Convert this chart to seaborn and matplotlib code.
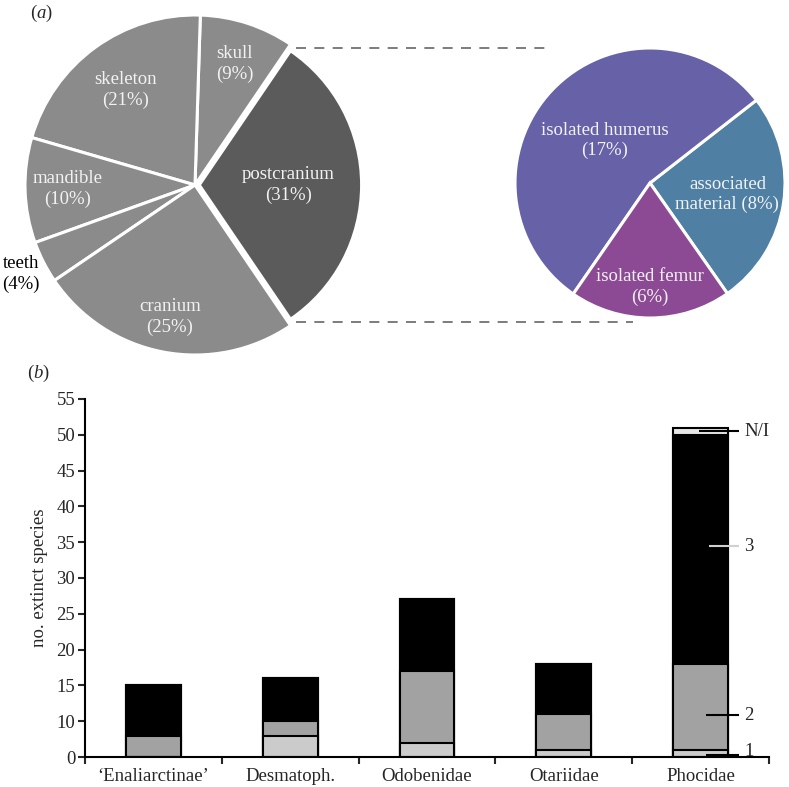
"""
Pinniped fossil record figure: (a) pie charts of holotype material, (b) stacked bars of extinct species
"""

import matplotlib
matplotlib.use('Agg')
import matplotlib.pyplot as plt
from matplotlib.lines import Line2D
import seaborn as sns
import numpy as np
import pandas as pd

# (a) left pie: holotype material (counter-clockwise from postcranium)
material_labels = ['postcranium', 'skull', 'skeleton', 'mandible', 'teeth', 'cranium']
material_pct = [31, 9, 21, 10, 4, 25]

# (a) right pie: breakdown of postcranium
postcranial_labels = ['associated\nmaterial', 'isolated humerus', 'isolated femur']
postcranial_pct = [8, 17, 6]

# (b) stacked bars
families = ['\u2018Enaliarctinae\u2019', 'Desmatoph.', 'Odobenidae', 'Otariidae', 'Phocidae']
grade_1 = [0, 3, 2, 1, 1]
grade_2 = [3, 2, 10, 5, 12]
grade_3 = [7, 6, 10, 7, 32]
grade_ni = [0, 0, 0, 0, 1]
ytick_labels = ['0', '10', '15', '20', '25', '30', '35', '40', '45', '50', '55']

sns.set_style('white')
plt.rcParams['font.family'] = ['Liberation Serif', 'DejaVu Serif']
plt.rcParams['mathtext.fontset'] = 'custom'
plt.rcParams['mathtext.rm'] = 'Liberation Serif'
plt.rcParams['mathtext.it'] = 'Liberation Serif:italic'

W, H = 789, 787
fig = plt.figure(figsize=(W / 100, H / 100), dpi=100)


def px_axes(cx, cy, half):
    """axes centred at pixel (cx, cy) with half-size in px"""
    return fig.add_axes([(cx - half) / W, 1 - (cy + half) / H, 2 * half / W, 2 * half / H])


FS = 13.5

# ---- left pie ----
r1 = 170
ax1 = px_axes(195, 185, 1.25 * r1)
wedges1, _ = ax1.pie(material_pct, colors=['#5b5b5b'] + ['#8b8b8b'] * 5,
                     startangle=-55.8, counterclock=True, explode=[0.025, 0, 0, 0, 0, 0],
                     wedgeprops=dict(edgecolor='white', linewidth=2.2))
wedges1[0].set_radius(0.955)
ax1.set_xlim(-1.25, 1.25)
ax1.set_ylim(-1.25, 1.25)
rad1 = [0.55, 0.75, 0.69, 0.75, 1.15, 0.79]
for w, lab, pct, rr in zip(wedges1, material_labels, material_pct, rad1):
    ang = np.deg2rad((w.theta1 + w.theta2) / 2)
    col = 'black' if rr > 1 else '#f2f2f2'
    ax1.text(rr * np.cos(ang), rr * np.sin(ang), f'{lab}\n({pct}%)', ha='center', va='center',
             color=col, fontsize=FS, linespacing=1.25)

# ---- right pie ----
r2 = 135
ax2 = px_axes(650, 183, 1.25 * r2)
wedges2, _ = ax2.pie(postcranial_pct, colors=['#4f80a3', '#6761a7', '#8c4a95'],
                     startangle=-55, counterclock=True,
                     wedgeprops=dict(edgecolor='white', linewidth=2.2))
ax2.set_xlim(-1.25, 1.25)
ax2.set_ylim(-1.25, 1.25)
rad2 = [0.58, 0.46, 0.77]
for w, lab, pct, rr in zip(wedges2, postcranial_labels, postcranial_pct, rad2):
    ang = np.deg2rad((w.theta1 + w.theta2) / 2)
    sep = ' ' if '\n' in lab else '\n'
    ax2.text(rr * np.cos(ang), rr * np.sin(ang), f'{lab}{sep}({pct}%)', ha='center', va='center',
             color='#f2f2f2', fontsize=FS, linespacing=1.25)

# dashed connectors between pies
fig.add_artist(Line2D([296 / W, 548 / W], [1 - 48 / H, 1 - 48 / H], color='#666666',
                      lw=1.2, ls=(0, (6, 5))))
fig.add_artist(Line2D([296 / W, 633 / W], [1 - 322 / H, 1 - 322 / H], color='#666666',
                      lw=1.2, ls=(0, (6, 5))))

fig.text(30 / W, 1 - 13 / H, r'($\mathit{a}$)', fontsize=FS, va='center', ha='left')
fig.text(27 / W, 1 - 373 / H, r'($\mathit{b}$)', fontsize=FS, va='center', ha='left')

# ---- bar chart ----
ax3 = fig.add_axes([85 / W, 1 - 757 / H, (769 - 85) / W, (757 - 399) / H])
g1 = np.array(grade_1)
g12 = g1 + np.array(grade_2)
g123 = g12 + np.array(grade_3)
gall = g123 + np.array(grade_ni)
layers = [(gall, '#e8e8e8'), (g123, 'black'), (g12, '#a2a2a2'), (g1, '#cbcbcb')]
for vals, col in layers:
    df = pd.DataFrame({'family': families, 'n': vals})
    sns.barplot(data=df, x='family', y='n', order=families, color=col, saturation=1,
                width=0.4, edgecolor='black', linewidth=1.5, errorbar=None, ax=ax3)

ax3.set_xlim(-0.5, 4.5)
ax3.set_ylim(0, 50)
ax3.set_yticks(np.arange(0, 51, 5))
ax3.set_yticklabels(ytick_labels)
ax3.set_xticks(np.arange(-0.5, 4.6, 1), minor=True)
ax3.tick_params(axis='x', which='major', length=0, pad=8, labelsize=FS)
ax3.tick_params(axis='x', which='minor', length=5, width=1.5, direction='out', bottom=True)
ax3.tick_params(axis='y', length=5, width=1.5, direction='out', left=True, labelsize=FS, pad=2)
ax3.set_xlabel('')
ax3.set_ylabel('no. extinct species', fontsize=FS, labelpad=6)
for s in ['top', 'right']:
    ax3.spines[s].set_visible(False)
for s in ['left', 'bottom']:
    ax3.spines[s].set_linewidth(1.5)
    ax3.spines[s].set_color('black')

# grade annotations on Phocidae
ann = [('N/I', 45.5, 3.985, 'black'), ('3', 29.4, 4.06, '#d0d0d0'),
       ('2', 5.8, 4.04, 'black'), ('1', 0.3, 4.04, 'black')]
for txt, yv, x0, col in ann:
    ax3.plot([x0, 4.28], [yv, yv], color=col, lw=1.5, clip_on=False, solid_capstyle='butt')
    ax3.text(4.32, yv + (0.5 if txt == '1' else 0), txt, ha='left', va='center', fontsize=FS)

fig.savefig('out.png', dpi=100)
